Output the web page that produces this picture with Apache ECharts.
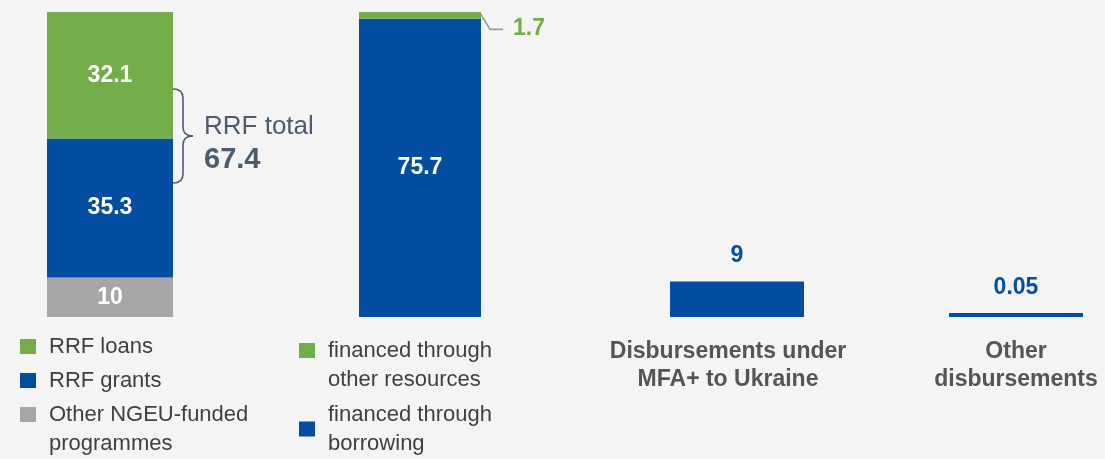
<!DOCTYPE html>
<html>
<head>
<meta charset="utf-8">
<script src="https://cdn.jsdelivr.net/npm/echarts@6/dist/echarts.min.js"></script>
<style>
  html, body { margin: 0; padding: 0; background: #f4f4f4; }
  #chart { width: 1105px; height: 459px; }
</style>
</head>
<body>
<div id="chart"></div>
<script>
// first bar, bottom to top order is reversed below (loans on top)
const rrfNames = ['RRF loans', 'RRF grants', 'Other NGEU-funded\nprogrammes'];
const rrfValues = [32.1, 35.3, 10];
// second bar
const fundingNames = ['financed through\nother resources', 'financed through\nborrowing'];
const fundingValues = [1.7, 75.7];
// the two single bars
const otherCategories = ['Disbursements under\nMFA+ to Ukraine', 'Other\ndisbursements'];
const otherValues = [9, 0.05];
const axisMax = 77.4;

const GREEN = '#72ad4a';
const BLUE = '#034ea2';
const GREY = '#a6a6a6';
const SLATE = '#4b5b70';
const FONT = "'Liberation Sans', Arial, sans-serif";

const grids = [
    { left: 47, width: 126 },
    { left: 359, width: 122 },
    { left: 670, width: 134 },
    { left: 949, width: 134 }
].map(g => ({ ...g, top: 12, bottom: 142 }));

const xAxes = grids.map((g, i) => ({
    type: 'category',
    gridIndex: i,
    data: i < 2 ? [''] : [otherCategories[i - 2]],
    axisLine: { show: false },
    axisTick: { show: false },
    axisLabel: {
        show: i >= 2,
        margin: 21,
        color: '#555',
        fontFamily: FONT,
        fontWeight: 'bold',
        fontSize: 23,
        lineHeight: 28,
        padding: i === 2 ? [0, 18, 0, 0] : 0
    }
}));

const yAxes = grids.map((g, i) => ({
    type: 'value',
    gridIndex: i,
    min: 0,
    max: axisMax,
    show: false,
    splitLine: { show: false }
}));

const insideLabel = {
    show: true,
    position: 'inside',
    color: '#fff',
    fontFamily: FONT,
    fontWeight: 'bold',
    fontSize: 23
};

const topLabel = {
    show: true,
    position: 'top',
    distance: 14,
    color: BLUE,
    fontFamily: FONT,
    fontWeight: 'bold',
    fontSize: 23
};

const series = [
    // bar 1: stacked RRF
    { name: rrfNames[2], type: 'bar', xAxisIndex: 0, yAxisIndex: 0, stack: 'rrf', barWidth: '100%', data: [rrfValues[2]], itemStyle: { color: GREY }, label: insideLabel },
    { name: rrfNames[1], type: 'bar', xAxisIndex: 0, yAxisIndex: 0, stack: 'rrf', barWidth: '100%', data: [rrfValues[1]], itemStyle: { color: BLUE }, label: insideLabel },
    { name: rrfNames[0], type: 'bar', xAxisIndex: 0, yAxisIndex: 0, stack: 'rrf', barWidth: '100%', data: [rrfValues[0]], itemStyle: { color: GREEN }, label: insideLabel },
    // bar 2: funding
    { name: fundingNames[1], type: 'bar', xAxisIndex: 1, yAxisIndex: 1, stack: 'fund', barWidth: '100%', data: [fundingValues[1]], itemStyle: { color: BLUE }, label: insideLabel },
    {
        name: fundingNames[0], type: 'bar', xAxisIndex: 1, yAxisIndex: 1, stack: 'fund', barWidth: '100%',
        data: [fundingValues[0]], itemStyle: { color: GREEN },
        label: { ...insideLabel, position: [154, 17], align: 'left', verticalAlign: 'middle', color: GREEN }
    },
    // bar 3 and 4
    { name: 'MFA+', type: 'bar', xAxisIndex: 2, yAxisIndex: 2, barWidth: '100%', data: [otherValues[0]], itemStyle: { color: BLUE }, label: topLabel },
    { name: 'Other', type: 'bar', xAxisIndex: 3, yAxisIndex: 3, barWidth: '100%', barMinHeight: 4, data: [otherValues[1]], itemStyle: { color: BLUE }, label: topLabel }
];

const legendBase = {
    orient: 'vertical',
    padding: 0,
    itemWidth: 16,
    itemHeight: 15,
    icon: 'rect',
    selectedMode: false,
    textStyle: { color: '#404040', fontFamily: FONT, fontSize: 22, lineHeight: 29, padding: [0, 0, 0, 8] }
};

// leading empty line keeps the first text line level with the square
const topAligned = name => '\n' + name;

const legends = [
    { data: [rrfNames[0]], left: 20, top: 332 },
    { data: [rrfNames[1]], left: 20, top: 366 },
    { data: [rrfNames[2]], left: 20, top: 371, formatter: topAligned },
    { data: [fundingNames[0]], left: 299, top: 307, formatter: topAligned },
    { data: [fundingNames[1]], left: 299, top: 400 }
].map(l => ({ ...legendBase, ...l }));

const myChart = echarts.init(document.getElementById('chart'));
const option = {
    backgroundColor: '#f4f4f4',
    animation: false,
    grid: grids,
    xAxis: xAxes,
    yAxis: yAxes,
    legend: legends,
    series: series
};
myChart.setOption(option);

// brace with RRF total next to first bar, leader line for the 1.7 label
const drawExtras = () => {
    const rrfTotal = rrfValues[0] + rrfValues[1];
    const x0 = grids[0].left + grids[0].width;
    const ym = myChart.convertToPixel({ gridIndex: 0 }, [0, rrfValues[2] + rrfValues[1]])[1] - 2.5;
    const braceStyle = { fill: 'none', stroke: SLATE, lineWidth: 1.6 };
    const curve = (x1, y1, cpx1, cpy1, cpx2, cpy2, x2, y2) => ({
        type: 'bezierCurve',
        shape: { x1, y1, cpx1, cpy1, cpx2, cpy2, x2, y2 },
        style: braceStyle
    });
    const line = (x1, y1, x2, y2) => ({ type: 'line', shape: { x1, y1, x2, y2 }, style: braceStyle });

    const x1 = grids[1].left + grids[1].width;
    const y1 = myChart.convertToPixel({ gridIndex: 1 }, [0, fundingValues[1] + fundingValues[0] / 2])[1];

    myChart.setOption({
        graphic: [
            curve(x0, ym - 47, x0 + 7, ym - 47, x0 + 10, ym - 44, x0 + 10, ym - 38),
            line(x0 + 10, ym - 38, x0 + 10, ym - 9),
            curve(x0 + 10, ym - 9, x0 + 10, ym - 3, x0 + 13, ym, x0 + 20, ym),
            curve(x0 + 20, ym, x0 + 13, ym, x0 + 10, ym + 3, x0 + 10, ym + 9),
            line(x0 + 10, ym + 9, x0 + 10, ym + 38),
            curve(x0 + 10, ym + 38, x0 + 10, ym + 44, x0 + 7, ym + 47, x0, ym + 47),
            {
                type: 'text', x: 204, y: ym - 9,
                style: { text: 'RRF total', fill: SLATE, font: '26px ' + FONT, verticalAlign: 'middle' }
            },
            {
                type: 'text', x: 204, y: ym + 24,
                style: { text: rrfTotal.toFixed(1), fill: SLATE, font: 'bold 29px ' + FONT, verticalAlign: 'middle' }
            },
            {
                type: 'polyline',
                shape: { points: [[x1, y1 - 1], [x1 + 9, y1 + 14], [x1 + 22, y1 + 14]] },
                style: { fill: 'none', stroke: '#9a9a9a', lineWidth: 1.6 }
            }
        ]
    });
};
drawExtras();

window.addEventListener('resize', function () {
    myChart.resize();
    drawExtras();
});
</script>
</body>
</html>
